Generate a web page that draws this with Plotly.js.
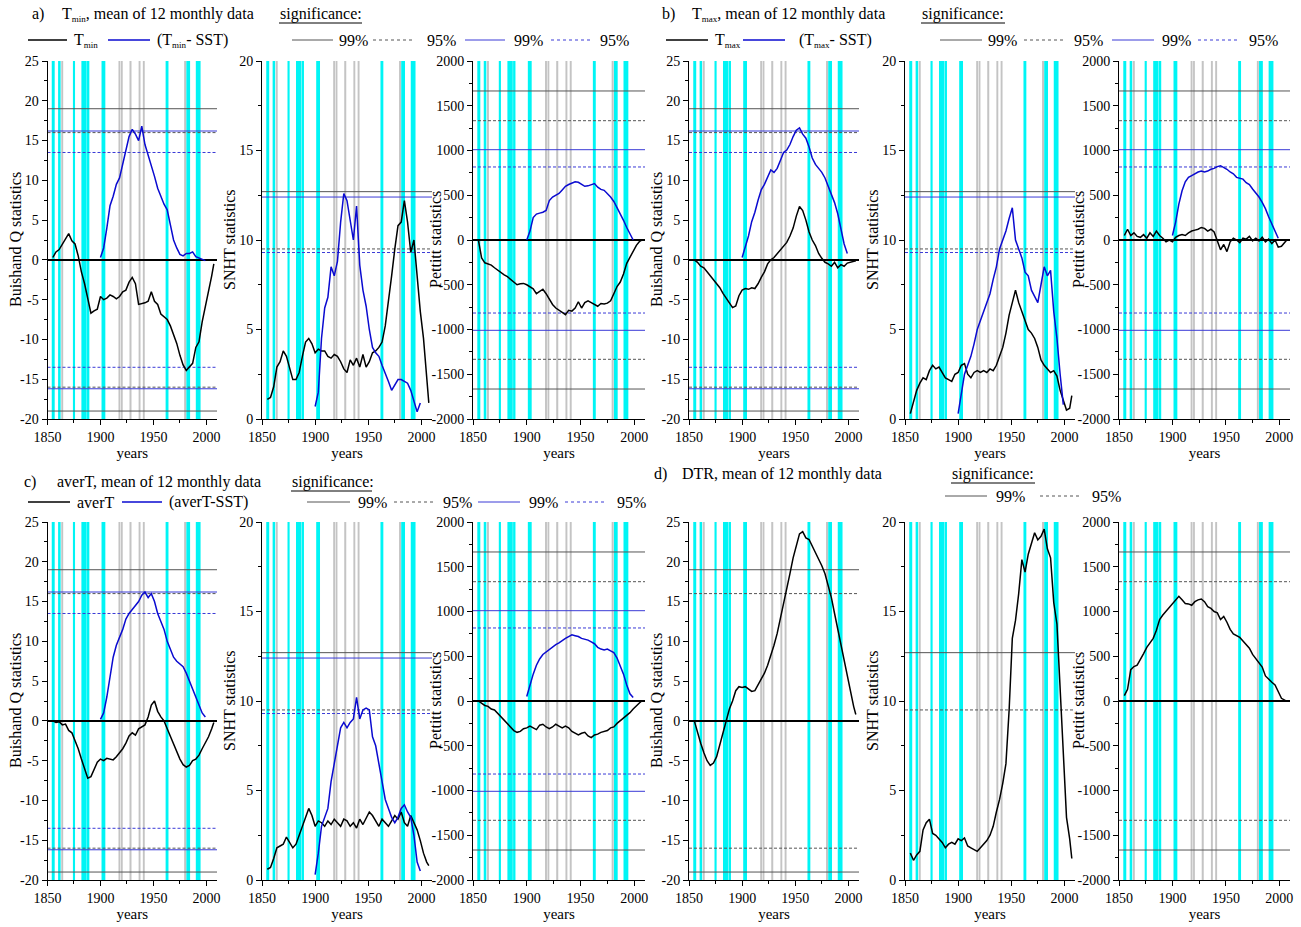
<!DOCTYPE html>
<html><head><meta charset="utf-8">
<script src="https://cdn.plot.ly/plotly-3.0.1.min.js"></script>
<style>html,body{margin:0;padding:0;background:#fff}#chart{width:1301px;height:927px}</style>
</head><body><div id="chart"></div>
<script>
// ---------- data ----------
const yearsK = [1855,1858,1861,1864,1867,1870,1873,1876,1879,1882,1885,1888,1891,1894,1897,1900,1903,1906,1909,1912,1915,1918,1921,1924,1927,1930,1933,1936,1939,1942,1945,1948,1951,1954,1957,1960,1963,1966,1969,1972,1975,1978,1981,1984,1987,1990,1993,1996,1999,2002,2005,2007];
const yearsB = [1900,1903,1906,1909,1912,1915,1918,1921,1924,1927,1930,1933,1936,1939,1942,1945,1948,1951,1954,1957,1960,1963,1966,1969,1972,1975,1978,1981,1984,1987,1990,1993,1996,1999];

// a) Tmin
const tminQ = [0.3,1.0,1.3,2.0,2.7,3.3,2.4,2.0,0.5,-1.5, -3.0,-5.0,-6.7,-6.4,-6.2,-4.6,-5.0,-4.8,-4.4,-4.6, -4.9,-4.6,-4.0,-3.8,-2.8,-2.2,-3.0,-5.6,-5.5,-5.4, -5.2,-4.0,-5.2,-5.6,-6.8,-7.2,-7.5,-8.3,-9.5,-10.5, -12.0,-13.2,-13.9,-13.5,-13.0,-11.0,-10.3,-7.8,-6.0,-4.2, -2.0,-0.5];
const tminSstQ = [0.3,1.5,4.0,6.8,8.0,9.5,10.3,12.0,14.0,15.5, 16.4,15.8,15.0,16.8,14.5,13.2,12.0,10.5,9.0,8.0, 7.0,6.3,4.5,2.5,1.5,0.7,0.5,0.8,0.8,1.0, 0.4,0.2,0.0,-0.1];
const tminS = [1.1,1.2,1.8,2.9,3.2,3.8,3.5,2.8,2.2,2.2, 2.6,3.5,4.3,4.5,4.2,3.7,3.9,3.8,3.8,3.5, 3.4,3.6,3.5,3.2,2.8,2.6,3.3,3.0,3.4,2.9, 3.6,2.9,3.2,3.7,3.8,4.0,4.3,5.2,6.5,8.0, 9.5,10.8,11.0,12.2,11.0,9.3,10.0,8.0,6.0,4.5, 2.0,0.9];
const tminSstS = [0.7,1.5,4.5,6.2,6.8,8.5,8.0,8.8,11.0,12.6, 12.2,11.2,10.0,11.9,8.6,7.2,6.3,5.0,4.0,3.7, 3.5,3.0,2.6,2.1,1.6,1.9,2.2,2.2,2.1,2.0, 1.6,1.0,0.4,0.9];
const tminP = [0,-200,-255,-270,-280,-310,-340,-360,-390,-410, -440,-470,-500,-490,-485,-500,-520,-545,-600,-570, -550,-600,-660,-720,-760,-790,-810,-835,-785,-795, -760,-690,-760,-700,-680,-700,-720,-740,-710,-715, -705,-680,-600,-520,-470,-380,-260,-190,-120,-60, -15,0];
const tminSstP = [0,100,250,290,300,310,330,440,480,500, 520,560,600,620,635,650,645,625,600,605, 620,630,590,565,555,520,480,430,360,300, 220,140,60,0];

// b) Tmax
const tmaxQ = [0.0,-0.3,-0.8,-1.0,-1.5,-2.0,-2.5,-3.0,-3.5,-4.2, -4.8,-5.5,-6.0,-5.8,-4.5,-3.8,-3.6,-3.7,-3.5,-3.6, -3.0,-2.2,-1.5,-0.5,0.0,0.3,0.8,1.2,1.8,2.2, 3.0,4.0,5.5,6.7,6.2,5.0,3.5,2.5,1.8,0.8, 0.2,-0.3,-0.5,-0.8,-0.3,-1.0,-0.6,-0.8,-0.4,-0.3, -0.2,-0.1];
const tmaxSstQ = [0.3,1.5,3.0,4.8,6.0,7.5,8.8,9.5,10.5,11.3, 11.0,11.5,12.5,13.5,13.8,14.5,15.5,16.3,16.6,15.8, 15.3,14.2,12.8,12.0,11.5,11.0,10.3,9.3,8.2,7.2, 5.8,3.8,2.0,0.8];
const tmaxS = [0.3,1.0,1.6,2.0,2.3,2.2,2.7,3.0,2.8,2.9, 2.6,2.3,2.2,2.1,2.5,2.6,3.0,3.1,2.5,2.3, 2.6,2.7,2.6,2.7,2.6,2.8,2.7,3.0,3.5,4.0, 4.8,5.8,6.5,7.2,6.5,6.0,5.5,5.0,4.8,4.5, 4.0,3.3,3.0,2.8,2.6,2.7,2.4,1.6,1.0,0.5, 0.6,1.3];
const tmaxSstS = [0.3,1.5,2.5,3.0,3.5,4.2,5.0,5.5,6.0,6.5, 7.0,7.8,8.5,9.5,10.0,10.5,11.2,11.8,10.0,9.5, 9.0,8.2,8.0,7.2,6.8,6.5,7.5,8.5,8.0,8.3, 6.0,4.5,2.5,0.8];
const tmaxP = [50,120,50,80,40,30,60,20,80,40, 100,50,20,-20,0,-20,30,50,60,50, 80,100,110,120,140,130,100,120,90,-20, -110,-50,-130,-20,20,0,-30,20,10,40, -10,20,-10,30,-20,10,-40,0,-80,-70, -20,0];
const tmaxSstP = [50,200,400,550,650,700,720,740,760,770, 760,770,790,800,820,830,810,790,760,740, 700,690,680,640,620,570,530,480,420,350, 260,180,100,20];

// c) averT
const averQ = [0.0,-0.2,-0.1,-0.5,-0.4,-1.2,-1.5,-2.5,-3.5,-4.8, -6.0,-7.2,-7.0,-6.0,-5.2,-4.8,-5.0,-4.7,-4.8,-4.9, -4.5,-4.0,-3.5,-2.8,-1.9,-1.5,-1.8,-1.0,-0.8,-0.5, 0.5,2.0,2.5,1.2,0.5,0.0,-1.0,-2.0,-2.8,-3.8, -4.8,-5.5,-5.8,-5.6,-5.0,-4.8,-4.3,-3.5,-2.8,-2.0, -1.0,-0.2];
const averSstQ = [0.2,1.0,3.0,5.5,8.0,9.5,10.5,11.5,12.8,13.5, 14.0,14.5,15.0,15.8,16.2,15.5,16.0,15.0,13.5,12.5, 11.5,10.0,9.0,8.0,7.5,7.2,6.8,6.0,5.0,4.0, 3.0,2.0,1.0,0.5];
const averS = [0.6,0.7,1.2,1.8,1.9,2.0,2.4,2.1,1.8,2.0, 2.5,3.0,3.5,4.0,3.6,3.0,3.3,3.2,3.0,3.3, 3.1,3.4,3.2,3.0,3.4,3.3,3.0,3.2,2.9,3.4, 3.1,3.5,3.8,3.6,3.3,3.0,3.4,3.2,3.0,3.3, 3.6,3.4,3.8,3.2,3.0,3.6,3.2,2.8,2.2,1.5, 1.0,0.8];
const averSstS = [0.3,1.5,3.0,3.5,4.0,5.5,6.5,7.5,8.5,8.8, 8.5,8.8,9.0,10.2,9.0,9.5,9.6,9.5,8.0,7.5, 6.5,5.5,4.5,4.0,3.5,3.2,3.5,4.0,4.2,3.8, 3.5,2.5,1.0,0.5];
const averP = [0,-30,-50,-60,-90,-100,-140,-180,-220,-260, -300,-330,-350,-340,-310,-300,-280,-300,-320,-270, -260,-290,-310,-290,-260,-280,-300,-280,-300,-340, -360,-380,-360,-350,-390,-410,-380,-370,-350,-340, -330,-300,-290,-250,-220,-200,-170,-130,-90,-50, -20,0];
const averSstP = [50,180,300,400,470,520,550,570,600,630, 650,680,700,720,740,730,720,700,690,680, 660,640,600,580,570,580,560,540,480,400, 300,180,80,40];

// d) DTR
const dtrQ = [0.0,-1.5,-2.8,-4.0,-5.0,-5.6,-5.3,-4.5,-3.0,-1.5, 0.0,1.5,2.5,3.8,4.3,4.2,4.3,4.0,3.7,3.8, 4.5,5.2,6.0,7.0,8.2,9.5,11.0,12.8,14.5,16.5, 18.5,20.5,22.0,23.5,23.8,23.0,22.8,22.0,21.3,20.5, 19.5,18.5,17.0,15.5,13.5,11.5,9.5,7.5,5.5,3.5, 1.8,0.8];
const dtrS = [1.5,1.1,1.4,1.6,2.8,3.2,3.4,2.6,2.5,2.3, 2.1,1.8,2.0,2.1,2.0,2.3,2.2,2.35,1.9,1.8, 1.7,1.6,1.8,2.0,2.2,2.5,3.0,3.8,4.5,5.4, 6.5,9.5,13.5,14.5,16.0,17.9,17.2,18.2,18.8,19.4, 19.0,19.2,19.6,18.5,18.0,15.5,14.3,10.5,6.5,3.5, 2.3,1.2];
const dtrP = [60,130,350,385,400,460,530,600,650,700, 790,910,960,1000,1050,1090,1130,1170,1130,1090, 1085,1070,1110,1130,1140,1110,1055,1035,1000,985, 910,945,880,800,750,725,710,670,630,590, 520,470,420,380,280,240,210,180,100,30, 10,0];

// significance levels [series 99%, series 95%, SST-difference 99%, SST-difference 95%]
const qLevels = [19, 16, 16.2, 13.5];
const sLevels = [12.7, 9.5, 12.4, 9.3];
const pLevels = [1665, 1333, 1009, 816];

// break years (bands)
const cyanStart = [1854,1860,1874,1882,1887.3,1901,1961.5,1981,1990];
const cyanEnd   = [1856.8,1862.4,1876,1887,1889.5,1904.6,1964.2,1984.6,1994.5];
const grayStart = [1863,1917,1919.3,1927.4,1936,1940,1979];
const grayEnd   = [1864.8,1918.8,1921,1929.3,1937.8,1941.8,1980.8];

// tick labels
const xTicks = [1850, 1900, 1950, 2000];
const qTicks = [-20, -15, -10, -5, 0, 5, 10, 15, 20, 25];
const sTicks = [0, 5, 10, 15, 20];
const pTicks = [-2000, -1500, -1000, -500, 0, 500, 1000, 1500, 2000];

// ---------- layout ----------
const W = 1301, H = 927;
const FONT = '"Liberation Serif", "Times New Roman", Times, serif';
const colsL = [[47.5,217],[262,432],[473,645]];
const colsR = [[689,859],[905,1075],[1119,1290]];
const titleL = [15, 229, 435], titleR = [656, 872, 1078];
const rowT = [61,419], rowB = [522,880];

const panels = [
  {cols: colsL, tx: titleL, row: rowT, black: [tminQ, tminS, tminP], blue: [tminSstQ, tminSstS, tminSstP]},
  {cols: colsR, tx: titleR, row: rowT, black: [tmaxQ, tmaxS, tmaxP], blue: [tmaxSstQ, tmaxSstS, tmaxSstP]},
  {cols: colsL, tx: titleL, row: rowB, black: [averQ, averS, averP], blue: [averSstQ, averSstS, averSstP]},
  {cols: colsR, tx: titleR, row: rowB, black: [dtrQ, dtrS, dtrP], blue: null}
];
const kinds = [
  {range: [-20, 25], ticks: qTicks, minor: 2.5, zero: true, lv: qLevels, sym: true, title: 'Buishand Q statistics'},
  {range: [0, 20], ticks: sTicks, minor: 2.5, zero: false, lv: sLevels, sym: false, title: 'SNHT statistics'},
  {range: [-2000, 2000], ticks: pTicks, minor: 250, zero: true, lv: pLevels, sym: true, title: 'Pettitt statistics'}
];

const GRAYLINE = '#555555', BLUELINE = '#3a3ad6', BLUEDATA = '#0a0ad0';
const data = [], shapes = [], annotations = [];
const layout = {
  width: W, height: H, margin: {l: 0, r: 0, t: 0, b: 0},
  paper_bgcolor: '#ffffff', plot_bgcolor: '#ffffff', showlegend: false,
  font: {family: FONT, size: 14, color: '#000'}
};

panels.forEach((pn, i) => {
  for (let j = 0; j < 3; j++) {
    const n = i * 3 + j + 1;
    const sfx = n === 1 ? '' : String(n);
    const xa = 'x' + sfx, ya = 'y' + sfx;
    const kd = kinds[j];
    const [px0, px1] = pn.cols[j];
    const [py0, py1] = pn.row;
    layout['xaxis' + sfx] = {
      domain: [px0 / W, px1 / W], range: [1850, 2010], anchor: ya,
      tickmode: 'array', tickvals: xTicks, ticktext: xTicks.map(String),
      ticks: 'outside', ticklen: 5, tickwidth: 1, tickcolor: '#000',
      minor: {tick0: 1850, dtick: 25, ticks: 'outside', ticklen: 3, tickcolor: '#000'},
      showline: true, linecolor: '#000', linewidth: 1, showgrid: false, zeroline: false,
      tickfont: {family: FONT, size: 14, color: '#000'},
      title: {text: 'years', font: {family: FONT, size: 15, color: '#000'}, standoff: 1}
    };
    layout['yaxis' + sfx] = {
      domain: [1 - py1 / H, 1 - py0 / H], range: kd.range, anchor: xa,
      tickmode: 'array', tickvals: kd.ticks, ticktext: kd.ticks.map(String),
      ticks: 'outside', ticklen: 5, tickwidth: 1, tickcolor: '#000',
      minor: {dtick: kd.minor, ticks: 'outside', ticklen: 3, tickcolor: '#000'},
      showline: true, linecolor: '#000', linewidth: 1, showgrid: false,
      zeroline: kd.zero, zerolinecolor: '#000', zerolinewidth: 1.5,
      tickfont: {family: FONT, size: 14, color: '#000'}
    };
    // bands
    cyanStart.forEach((s, k) => shapes.push({type: 'rect', xref: xa, yref: ya + ' domain', x0: s, x1: cyanEnd[k], y0: 0, y1: 1, fillcolor: '#00f5f5', line: {width: 0}, layer: 'below'}));
    grayStart.forEach((s, k) => shapes.push({type: 'rect', xref: xa, yref: ya + ' domain', x0: s, x1: grayEnd[k], y0: 0, y1: 1, fillcolor: '#c4c4c4', line: {width: 0}, layer: 'below'}));
    // significance lines
    const signs = kd.sym ? [1, -1] : [1];
    const lvl = [[kd.lv[0], GRAYLINE, 'solid'], [kd.lv[1], GRAYLINE, '3px,2px']];
    if (pn.blue) { lvl.push([kd.lv[2], BLUELINE, 'solid']); lvl.push([kd.lv[3], BLUELINE, '3px,2px']); }
    lvl.forEach(([v, c, d]) => signs.forEach(sg => shapes.push({
      type: 'line', xref: xa + ' domain', yref: ya, x0: 0, x1: 1, y0: sg * v, y1: sg * v,
      line: {color: c, width: 1, dash: d}, layer: 'below'
    })));
    // series
    data.push({type: 'scatter', mode: 'lines', x: yearsK, y: pn.black[j], xaxis: xa, yaxis: ya,
      line: {color: '#000', width: 1.5}, hoverinfo: 'skip'});
    if (pn.blue) data.push({type: 'scatter', mode: 'lines', x: yearsB, y: pn.blue[j], xaxis: xa, yaxis: ya,
      line: {color: BLUEDATA, width: 1.5}, hoverinfo: 'skip'});
    // y-axis title
    annotations.push({xref: 'paper', yref: 'paper', x: pn.tx[j] / W, y: 1 - (py0 + py1) / 2 / H,
      text: kd.title, textangle: -90, showarrow: false, xanchor: 'center', yanchor: 'middle',
      font: {family: FONT, size: 16, color: '#000'}});
  }
});

// ---------- headings & legends ----------
function txt(x, y, t, size) {
  annotations.push({xref: 'paper', yref: 'paper', x: x / W, y: 1 - y / H, text: t, showarrow: false,
    xanchor: 'left', yanchor: 'middle', font: {family: FONT, size: size || 16, color: '#000'}});
}
function seg(x0, x1, y, color, dash, width) {
  shapes.push({type: 'line', xref: 'paper', yref: 'paper', x0: x0 / W, x1: x1 / W, y0: 1 - y / H, y1: 1 - y / H,
    line: {color: color, width: width || 1, dash: dash || 'solid'}});
}
const sub = s => '<sub><span style="font-size:9px">' + s + '</span></sub>';
// a)
txt(30, 14, 'a)'); txt(60, 14, 'T' + sub('min') + ', mean of 12 monthly data'); txt(278, 14, 'significance:'); seg(279, 362, 23, '#000');
seg(28, 67, 40, '#000', 'solid', 1.5); txt(72, 41, 'T' + sub('min'));
seg(108, 150, 40, BLUEDATA, 'solid', 1.5); txt(155, 41, '(T' + sub('min') + '- SST)');
seg(292, 333, 40, GRAYLINE); txt(337, 41, '99%');
seg(373, 414, 40, GRAYLINE, 'dot'); txt(425, 41, '95%');
seg(465, 505, 40, BLUELINE); txt(512, 41, '99%');
seg(551, 590, 40, BLUELINE, 'dot'); txt(598, 41, '95%');
// b)
txt(660, 14, 'b)'); txt(690, 14, 'T' + sub('max') + ', mean of 12 monthly data'); txt(920, 14, 'significance:'); seg(921, 1005, 23, '#000');
seg(666, 708, 40, '#000', 'solid', 1.5); txt(713, 41, 'T' + sub('max'));
seg(743, 785, 40, BLUEDATA, 'solid', 1.5); txt(797, 41, '(T' + sub('max') + '- SST)');
seg(940, 982, 40, GRAYLINE); txt(986, 41, '99%');
seg(1024, 1066, 40, GRAYLINE, 'dot'); txt(1072, 41, '95%');
seg(1112, 1154, 40, BLUELINE); txt(1160, 41, '99%');
seg(1198, 1240, 40, BLUELINE, 'dot'); txt(1247, 41, '95%');
// c)
txt(22, 482, 'c)'); txt(55, 482, 'averT, mean of 12 monthly data'); txt(290, 482, 'significance:'); seg(291, 372, 491, '#000');
seg(28, 70, 502, '#000', 'solid', 1.5); txt(75, 502, 'averT');
seg(122, 162, 502, BLUEDATA, 'solid', 1.5); txt(167, 502, '(averT-SST)');
seg(307, 350, 502, GRAYLINE); txt(356, 502, '99%');
seg(394, 436, 502, GRAYLINE, 'dot'); txt(441, 502, '95%');
seg(478, 520, 502, BLUELINE); txt(527, 502, '99%');
seg(565, 607, 502, BLUELINE, 'dot'); txt(615, 502, '95%');
// d)
txt(652, 474, 'd)'); txt(680, 474, 'DTR, mean of 12 monthly data'); txt(950, 474, 'significance:'); seg(951, 1035, 483, '#000');
seg(945, 987, 496, GRAYLINE); txt(994, 496, '99%');
seg(1040, 1082, 496, GRAYLINE, 'dot'); txt(1090, 496, '95%');

layout.shapes = shapes;
layout.annotations = annotations;
Plotly.newPlot('chart', data, layout, {staticPlot: true, displayModeBar: false});
</script>
</body></html>
